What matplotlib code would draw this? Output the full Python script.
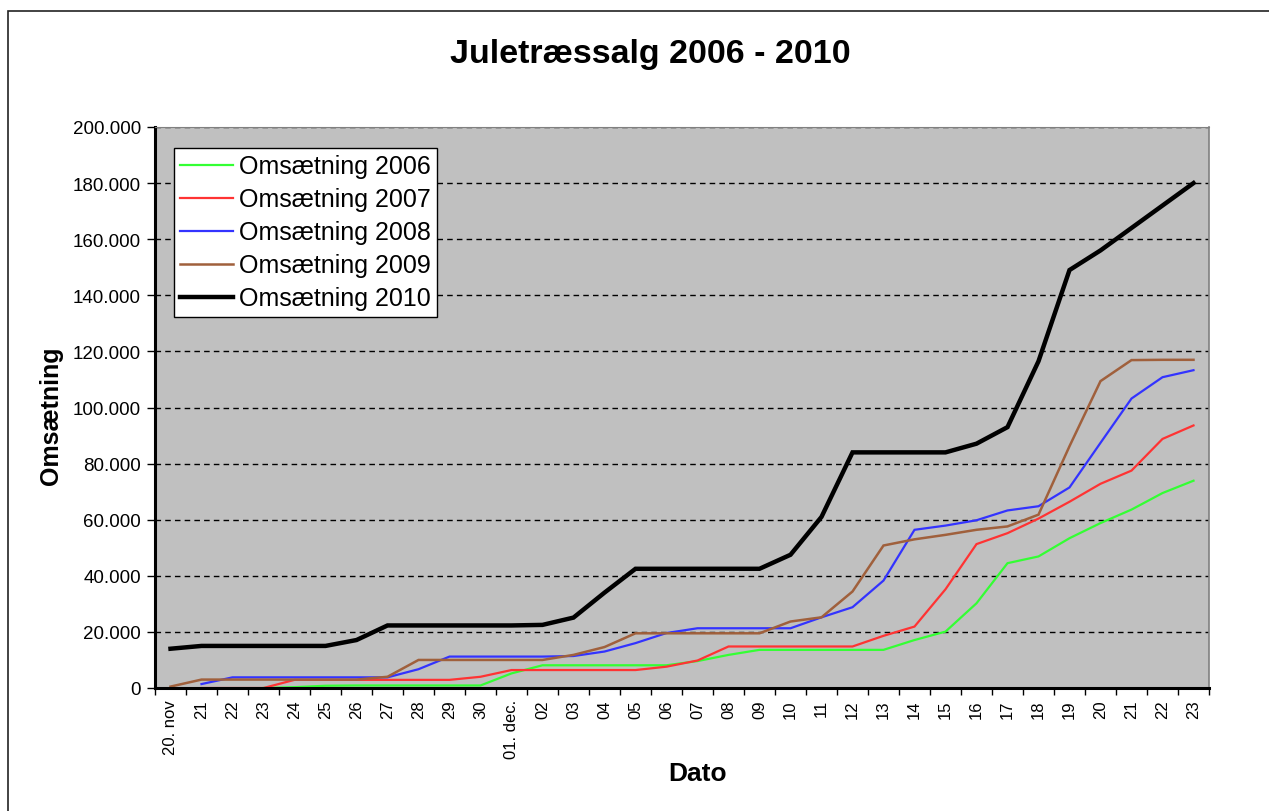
import numpy as np
import matplotlib.pyplot as plt
from matplotlib.patches import Rectangle
from matplotlib.ticker import FuncFormatter

plt.rcParams['font.family'] = ['Liberation Sans', 'DejaVu Sans']

# ── Data ──
dates = ['20. nov', '21', '22', '23', '24', '25', '26', '27', '28', '29', '30',
         '01. dec.', '02', '03', '04', '05', '06', '07', '08', '09', '10', '11',
         '12', '13', '14', '15', '16', '17', '18', '19', '20', '21', '22', '23']

# None = no value that day
oms_2006 = [None, None, None, 0, 300, 800, 900, 900, 900, 900, 900,
            5200, 8100, 8100, 8100, 8100, 8100, 9600, 11800, 13600, 13600, 13600,
            13600, 13600, 17100, 20100, 30200, 44500, 46900, 53400, 58800, 63600, 69500, 73900]
oms_2007 = [None, 0, 0, 0, 2900, 2900, 2900, 2900, 2900, 2900, 4000,
            6400, 6400, 6400, 6400, 6400, 7600, 9800, 14800, 14800, 14800, 14800,
            14800, 18600, 21900, 35200, 51300, 55200, 60400, 66400, 72800, 77500, 88800, 93600]
oms_2008 = [None, 1400, 3800, 3800, 3800, 3800, 3800, 3800, 6700, 11200, 11200,
            11200, 11200, 11400, 13000, 16000, 19600, 21300, 21300, 21300, 21300, 25200,
            28800, 38300, 56400, 57900, 59800, 63300, 64800, 71500, 87400, 103200, 110800, 113300]
oms_2009 = [500, 3000, 3000, 3000, 3000, 3000, 3000, 4000, 10000, 10000, 10000,
            10000, 10000, 11800, 14600, 19500, 19500, 19500, 19500, 19500, 23700, 25200,
            34400, 50800, 53000, 54600, 56400, 57600, 61800, 86200, 109400, 116900, 117000, 117000]
oms_2010 = [14000, 15000, 15000, 15000, 15000, 15000, 17100, 22300, 22300, 22300, 22300,
            22300, 22500, 25100, 34000, 42500, 42500, 42500, 42500, 42500, 47500, 61000,
            84000, 84000, 84000, 84000, 87100, 93000, 116500, 149000, 156000, 164000, 172000, 180000]

series = [('Omsætning 2006', oms_2006, '#33ff33', 1.6),
          ('Omsætning 2007', oms_2007, '#ff3333', 1.6),
          ('Omsætning 2008', oms_2008, '#3333ff', 1.6),
          ('Omsætning 2009', oms_2009, '#a0603c', 1.8),
          ('Omsætning 2010', oms_2010, '#000000', 3.2)]

fig = plt.figure(figsize=(12.69, 8.12), dpi=100)
ax = fig.add_axes([155 / 1269, 1 - 689 / 812, (1209 - 155) / 1269, (689 - 128) / 812])
ax.set_facecolor('#c0c0c0')

# outer chart border (left/top visible in the reference)
fig.patches.append(Rectangle((8 / 1269, -0.1), 1.2, 1 - 12 / 812 + 0.1,
                             transform=fig.transFigure, fill=False,
                             edgecolor='#222222', lw=1.2))

x = np.arange(len(dates))
for label, vals, col, lw in series:
    y = np.array([np.nan if v is None else v for v in vals], dtype=float)
    ax.plot(x, y, color=col, lw=lw, label=label, solid_joinstyle='miter')

ax.set_xlim(-0.5, len(dates) - 0.5)
ax.set_ylim(0, 200000)

# ── Gridlines ──
ax.set_yticks(np.arange(0, 200001, 20000))
ax.yaxis.grid(True, color='black', linestyle=(0, (4, 3)), lw=1)
ax.set_axisbelow(True)
ax.yaxis.set_major_formatter(FuncFormatter(lambda v, p: f'{int(v):,}'.replace(',', '.')))

# categories: labels at centres, tick marks on boundaries
ax.set_xticks(x)
ax.set_xticklabels(dates, rotation=90, fontsize=12)
ax.set_xticks(np.arange(-0.5, len(dates), 1), minor=True)
ax.tick_params(axis='x', which='major', length=0, pad=8)
ax.tick_params(axis='x', which='minor', length=5, width=1, direction='out')
ax.tick_params(axis='y', length=6, width=1, direction='out', labelsize=13.5, pad=4)

for s in ('left', 'bottom'):
    ax.spines[s].set_linewidth(2.2)
    ax.spines[s].set_color('black')
ax.spines['top'].set_color('#808080')
ax.spines['top'].set_linestyle((0, (2, 1)))
ax.spines['right'].set_color('#808080')
ax.spines['right'].set_linewidth(1.2)

ax.set_ylabel('Omsætning', fontsize=18, fontweight='bold', va='center', ha='center')
ax.yaxis.set_label_coords((51 - 155) / 1054, (689 - 416) / 561)
ax.set_xlabel('Dato', fontsize=19, fontweight='bold', va='center', ha='center')
ax.xaxis.set_label_coords((698 - 155) / 1054, -(774 - 689) / 561)
fig.text(650 / 1269, 1 - 55 / 812, 'Juletræssalg 2006 - 2010', ha='center', va='center',
         fontsize=24.5, fontweight='bold')

leg = ax.legend(loc='upper left', bbox_to_anchor=((174 - 155) / 1054, 1 - (149 - 128) / 561),
                fontsize=18, frameon=True, fancybox=False, borderpad=0.25,
                labelspacing=0.36, handlelength=2.1, handletextpad=0.25, borderaxespad=0)
leg.get_frame().set_edgecolor('black')
leg.get_frame().set_linewidth(1)
leg.get_frame().set_alpha(1)

fig.savefig('out.png', dpi=100)
